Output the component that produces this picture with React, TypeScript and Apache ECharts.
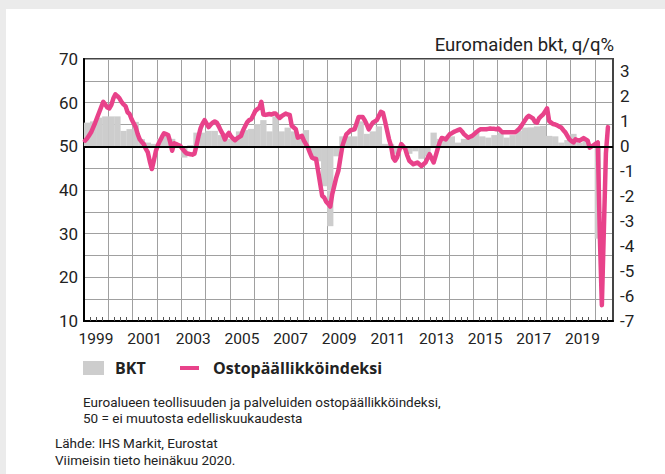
import React, { useEffect, useRef } from "react";
import * as echarts from "echarts";

const START_YEAR = 1999;

// Euro area composite PMI, monthly from Jan 1999 to Jul 2020
const pmi1999_2004 = [
  51.3, 51.8, 52.5, 53.2, 54.3, 55.4, 56.6, 57.8, 59.0, 60.2, 59.6, 58.9,
  58.7, 59.5, 61.0, 61.9, 61.5, 61.0, 60.2, 59.6, 59.2, 57.8, 57.4, 56.2,
  55.3, 54.4, 52.8, 51.6, 51.0, 50.5, 49.4, 48.6, 46.5, 44.8, 46.8, 49.0,
  50.3, 51.3, 52.2, 53.0, 52.8, 52.6, 51.0, 49.0, 50.7, 50.5, 50.3, 50.1,
  49.5, 48.9, 48.4, 48.3, 48.2, 48.1, 48.3, 50.2, 52.3, 54.1, 55.2, 56.0,
  55.2, 54.4, 55.0, 55.4, 55.7, 55.4, 54.6, 53.6, 52.8, 51.6, 52.5, 53.1,
];
const pmi2005_2010 = [
  52.3, 51.8, 51.4, 51.8, 52.1, 52.4, 53.7, 54.6, 55.5, 56.0, 56.2, 57.1,
  58.1, 58.5, 58.8, 60.2, 57.3, 57.2, 57.3, 57.4, 57.3, 57.5, 57.5, 57.0,
  56.5, 56.9, 57.2, 57.5, 57.3, 57.2, 54.7, 54.3, 53.9, 52.0, 52.2, 52.4,
  51.3, 50.5, 49.7, 48.5, 47.4, 47.2, 47.1, 44.4, 41.5, 38.7, 38.3, 37.3,
  36.8, 36.2, 39.1, 41.0, 42.9, 44.4, 47.3, 50.1, 51.5, 52.8, 53.2, 53.7,
  53.8, 53.9, 55.3, 56.7, 56.7, 56.7, 56.0, 55.0, 53.9, 54.7, 55.4, 55.7,
];
const pmi2011_2016 = [
  56.0, 57.0, 57.9, 57.7, 55.8, 53.7, 51.6, 50.1, 47.4, 46.7, 47.5, 49.0,
  50.5, 50.0, 49.4, 47.9, 46.7, 46.3, 45.9, 46.1, 46.3, 45.9, 45.5, 45.9,
  46.3, 47.3, 48.2, 47.2, 46.3, 47.8, 49.4, 50.9, 51.9, 51.8, 51.6, 52.2,
  52.8, 53.0, 53.3, 53.5, 53.7, 53.9, 53.4, 52.8, 52.4, 52.0, 52.2, 52.4,
  52.8, 53.2, 53.6, 53.9, 53.9, 53.9, 53.9, 54.0, 54.1, 54.0, 54.0, 53.9,
  54.1, 53.6, 53.2, 53.2, 53.2, 53.2, 53.2, 53.2, 53.2, 53.5, 53.9, 54.5,
];
const pmi2017_2020 = [
  55.2, 55.9, 56.6, 57.0, 56.7, 56.4, 55.6, 55.4, 56.4, 56.9, 57.3, 58.0,
  58.7, 55.8, 55.4, 55.1, 55.0, 54.8, 54.5, 54.3, 53.7, 53.2, 52.4, 51.6,
  51.2, 50.9, 51.6, 51.4, 51.3, 51.6, 51.9, 51.6, 51.3, 49.7, 50.0, 50.3,
  50.6, 50.9, 29.7, 13.6, 31.0, 48.4, 54.4,
];
const pmi = [...pmi1999_2004, ...pmi2005_2010, ...pmi2011_2016, ...pmi2017_2020];

// Euro area GDP, q/q %, quarterly from 1999 Q1 to 2020 Q1
const gdp = [
  0.95, 1.0, 1.15, 1.2,
  1.2, 1.2, 0.62, 0.69,
  0.98, 0.29, 0.15, 0.1,
  0.3, 0.4, 0.3, 0.05,
  -0.45, 0.05, 0.55, 0.55,
  0.62, 0.62, 0.45, 0.3,
  0.3, 0.6, 0.65, 0.7,
  0.9, 1.05, 0.6, 1.2,
  0.6, 0.75, 0.6, 0.45,
  0.65, -0.4, -0.6, -1.6,
  -3.2, -0.4, 0.4, 0.4,
  0.4, 1.0, 0.5, 0.6,
  0.8, 0.1, 0.1, -0.3,
  -0.1, -0.3, -0.2, -0.5,
  -0.4, 0.55, 0.3, 0.3,
  0.4, 0.15, 0.3, 0.4,
  0.65, 0.4, 0.35, 0.45,
  0.55, 0.35, 0.45, 0.62,
  0.75, 0.76, 0.8, 0.82,
  0.42, 0.4, 0.15, 0.25,
  0.5, 0.15, 0.25, 0.05,
  -3.7,
];

const yearLabels = ["1999", "2001", "2003", "2005", "2007", "2009", "2011", "2013", "2015", "2017", "2019"];
const leftTickLabels = ["10", "20", "30", "40", "50", "60", "70"];

const titleText = "Euromaiden bkt, q/q%";
const legendBar = "BKT";
const legendLine = "Ostopäällikköindeksi";
const note1 = "Euroalueen teollisuuden ja palveluiden ostopäällikköindeksi,";
const note2 = "50 = ei muutosta edelliskuukaudesta";
const source1 = "Lähde: IHS Markit, Eurostat";
const source2 = "Viimeisin tieto heinäkuu 2020.";

const FONT = "Roboto, 'Noto Sans', sans-serif";
const BOLD_FONT = "'Open Sans', Roboto, sans-serif";
const PINK = "#e8428a";
const BAR_GRAY = "#cdcdcd";
const GRID_GRAY = "#a0a0a0";
const TEXT = "#222";

export default function App() {
  const ref = useRef<HTMLDivElement>(null);
  useEffect(() => {
    if (!ref.current) return;
    const chart = echarts.init(ref.current, null, { renderer: "svg" });
    const lineData = pmi.map((v, i) => [START_YEAR + (i + 0.5) / 12, v]);
    const barData = gdp.map((v, i) => [START_YEAR + (i + 0.5) / 4, v]);
    chart.setOption({
      animation: false,
      backgroundColor: "transparent",
      textStyle: { fontFamily: FONT },
      grid: {
        left: 84,
        top: 59,
        right: 52,
        bottom: 153,
        show: true,
        borderColor: "#444",
        borderWidth: 2,
        backgroundColor: "transparent",
      },
      xAxis: {
        type: "value",
        min: 1999,
        max: 2020.75,
        interval: 1,
        axisLine: { show: true, onZero: false, lineStyle: { color: "#000", width: 2 } },
        axisTick: { show: false, inside: true },
        minorTick: { show: true, splitNumber: 4, length: 4, lineStyle: { color: "#555", width: 1 } },
        splitLine: { show: true, lineStyle: { color: GRID_GRAY, width: 1 } },
        axisLabel: {
          formatter: (v: number) => (yearLabels.includes(String(v)) ? String(v) : ""),
          padding: [0, 0, 0, 24],
          fontSize: 15.5,
          color: TEXT,
          margin: 10,
          fontFamily: FONT,
          showMaxLabel: false,
        },
      },
      yAxis: [
        {
          type: "value",
          position: "left",
          min: 10,
          max: 70,
          interval: 5,
          axisLine: { show: true, onZero: false, lineStyle: { color: "#000", width: 2 } },
          axisTick: { show: false },
          splitLine: { show: true, lineStyle: { color: GRID_GRAY, width: 1 } },
          axisLabel: {
            formatter: (v: number) => (leftTickLabels.includes(String(v)) ? String(v) : ""),
            fontSize: 17,
            color: TEXT,
            margin: 6,
            fontFamily: FONT,
          },
        },
        {
          type: "value",
          position: "right",
          min: -7,
          max: 3.5,
          interval: 1,
          axisLine: { show: true, onZero: false, lineStyle: { color: "#444", width: 2 } },
          axisTick: { show: false },
          splitLine: { show: false },
          axisLabel: {
            formatter: (v: number) => (Number.isInteger(v) ? String(v) : ""),
            fontSize: 17,
            color: TEXT,
            margin: 7,
            fontFamily: FONT,
            showMaxLabel: false,
          },
        },
      ],
      series: [
        {
          type: "bar",
          name: legendBar,
          xAxisIndex: 0,
          yAxisIndex: 1,
          data: barData,
          barWidth: 6.3,
          itemStyle: { color: BAR_GRAY },
          z: 2,
          markLine: {
            silent: true,
            symbol: "none",
            label: { show: false },
            lineStyle: { color: "#000", width: 2, type: "solid" },
            data: [{ yAxis: 0 }],
          },
        },
        {
          type: "line",
          name: legendLine,
          xAxisIndex: 0,
          yAxisIndex: 0,
          data: lineData,
          showSymbol: false,
          symbol: "none",
          lineStyle: { color: PINK, width: 4.5, join: "round", cap: "round" },
          z: 3,
        },
      ],
      graphic: [
        {
          type: "text",
          x: 614,
          y: 45,
          style: { text: titleText, fill: TEXT, font: `18.5px ${FONT}`, align: "right", verticalAlign: "middle" },
        },
        { type: "rect", shape: { x: 83, y: 361, width: 21, height: 14 }, style: { fill: BAR_GRAY } },
        {
          type: "text",
          x: 115,
          y: 368,
          style: { text: legendBar, fill: TEXT, font: `bold 16px ${BOLD_FONT}`, verticalAlign: "middle" },
        },
        {
          type: "line",
          shape: { x1: 180, y1: 368, x2: 199, y2: 368 },
          style: { stroke: PINK, lineWidth: 4 },
        },
        {
          type: "text",
          x: 213,
          y: 368,
          style: { text: legendLine, fill: TEXT, font: `bold 16px ${BOLD_FONT}`, verticalAlign: "middle" },
        },
        { type: "text", x: 83, y: 402, style: { text: note1, fill: TEXT, font: `13.5px ${FONT}`, verticalAlign: "middle" } },
        { type: "text", x: 83, y: 418, style: { text: note2, fill: TEXT, font: `13.5px ${FONT}`, verticalAlign: "middle" } },
        { type: "text", x: 55, y: 443, style: { text: source1, fill: TEXT, font: `13.5px ${FONT}`, verticalAlign: "middle" } },
        { type: "text", x: 55, y: 460, style: { text: source2, fill: TEXT, font: `13.5px ${FONT}`, verticalAlign: "middle" } },
      ],
    });
    return () => chart.dispose();
  }, []);
  return (
    <div style={{ position: "fixed", left: 0, top: 0, width: 665, height: 474, background: "#ebebeb" }}>
      <div style={{ position: "absolute", left: 6, top: 9, right: 0, bottom: 0, background: "#fff" }} />
      <div ref={ref} style={{ position: "absolute", left: 0, top: 0, width: 665, height: 474 }} />
    </div>
  );
}
